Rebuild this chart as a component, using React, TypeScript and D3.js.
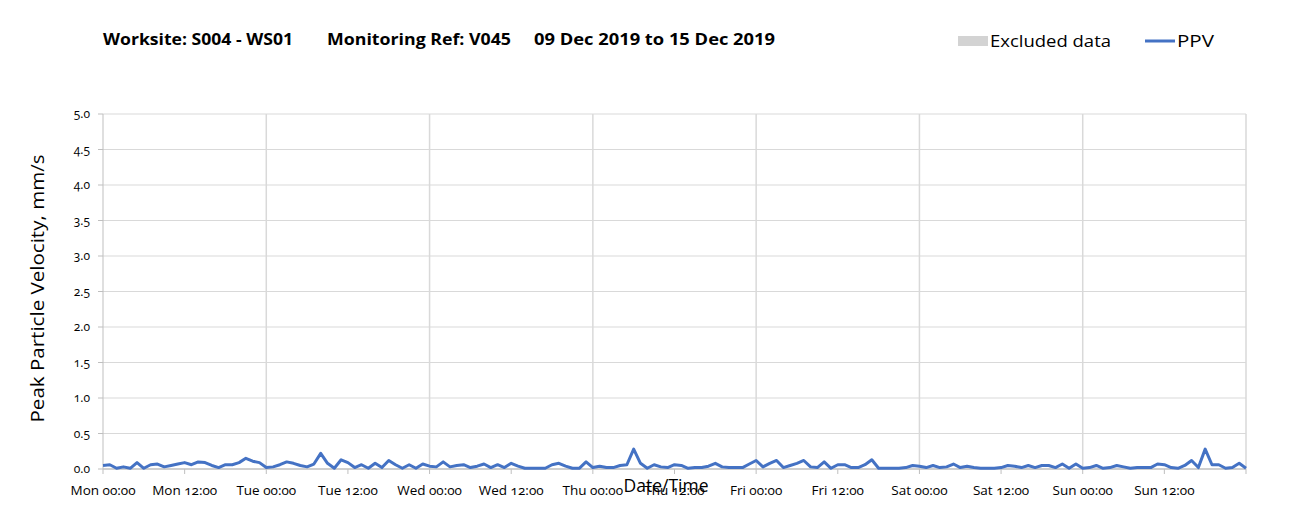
import React from "react";
import * as d3 from "d3";

const W = 1307;
const H = 524;

const titleParts = ["Worksite: S004 - WS01", "Monitoring Ref: V045", "09 Dec 2019 to 15 Dec 2019"];
const legendLabels = ["Excluded data", "PPV"];
const yTitle = "Peak Particle Velocity, mm/s";
const xTitle = "Date/Time";
const yTicks = [0, 0.5, 1, 1.5, 2, 2.5, 3, 3.5, 4, 4.5, 5];
const xTickLabels = [
  "Mon 00:00", "Mon 12:00", "Tue 00:00", "Tue 12:00", "Wed 00:00", "Wed 12:00",
  "Thu 00:00", "Thu 12:00", "Fri 00:00", "Fri 12:00", "Sat 00:00", "Sat 12:00",
  "Sun 00:00", "Sun 12:00",
];
const startTime = new Date(2019, 11, 9, 0, 0, 0);

// hourly PPV readings (mm/s), Mon 00:00 .. next Mon 00:00
const ppv = [
  0.05, 0.06, 0.01, 0.03, 0.01, 0.09, 0.01, 0.06, 0.07, 0.03, 0.05, 0.07,
  0.09, 0.06, 0.10, 0.09, 0.05, 0.02, 0.06, 0.06, 0.09, 0.15, 0.11, 0.09,
  0.02, 0.03, 0.06, 0.10, 0.08, 0.05, 0.03, 0.07, 0.22, 0.08, 0.01, 0.13,
  0.09, 0.02, 0.06, 0.01, 0.08, 0.02, 0.12, 0.06, 0.01, 0.06, 0.01, 0.07,
  0.04, 0.03, 0.10, 0.03, 0.05, 0.06, 0.02, 0.04, 0.07, 0.02, 0.06, 0.02,
  0.08, 0.04, 0.01, 0.01, 0.01, 0.01, 0.06, 0.08, 0.04, 0.01, 0.01, 0.10,
  0.02, 0.04, 0.02, 0.02, 0.05, 0.06, 0.28, 0.08, 0.01, 0.06, 0.03, 0.02,
  0.06, 0.05, 0.01, 0.02, 0.02, 0.04, 0.08, 0.03, 0.02, 0.02, 0.02, 0.07,
  0.12, 0.03, 0.08, 0.12, 0.02, 0.05, 0.08, 0.12, 0.03, 0.02, 0.10, 0.01,
  0.06, 0.06, 0.02, 0.02, 0.06, 0.13, 0.01, 0.01, 0.01, 0.01, 0.02, 0.05,
  0.04, 0.02, 0.05, 0.02, 0.03, 0.07, 0.02, 0.04, 0.02, 0.01, 0.01, 0.01,
  0.02, 0.05, 0.04, 0.02, 0.05, 0.02, 0.05, 0.05, 0.02, 0.07, 0.01, 0.07,
  0.01, 0.02, 0.05, 0.01, 0.02, 0.05, 0.03, 0.01, 0.02, 0.02, 0.02, 0.07,
  0.06, 0.02, 0.01, 0.05, 0.12, 0.02, 0.28, 0.06, 0.06, 0.01, 0.02, 0.08,
  0.01,
];

const FONT = "'Open Sans', 'Noto Sans', sans-serif";

export default function App() {
  const left = 103;
  const right = 1246;
  const top = 114;
  const bottom = 469;

  const times = ppv.map((_, i) => d3.timeHour.offset(startTime, i));
  const x = d3
    .scaleTime()
    .domain([startTime, d3.timeHour.offset(startTime, 168)])
    .range([left, right]);
  const y = d3.scaleLinear().domain([0, 5]).range([bottom, top]);

  const line = d3
    .line<number>()
    .x((_, i) => x(times[i]))
    .y((d) => y(d));

  const majorDays = d3.range(0, 8).map((d) => d3.timeDay.offset(startTime, d));
  const halfDays = d3.range(0, 15).map((k) => d3.timeHour.offset(startTime, k * 12));

  const gridColor = "#d9d9d9";
  const axisColor = "#bfbfbf";

  return (
    <svg width={W} height={H} style={{ display: "block", position: "absolute", left: 0, top: 0 }} fontFamily={FONT}>
      <rect x={0} y={0} width={W} height={H} fill="#ffffff" />
      {/* title */}
      <g fontWeight="bold" fontSize={16} fill="#000">
        <text x={103} y={45} textLength={190} lengthAdjust="spacingAndGlyphs">{titleParts[0]}</text>
        <text x={327} y={45} textLength={184} lengthAdjust="spacingAndGlyphs">{titleParts[1]}</text>
        <text x={534} y={45} textLength={241} lengthAdjust="spacingAndGlyphs">{titleParts[2]}</text>
      </g>
      {/* legend */}
      <g fontSize={17} fill="#000">
        <rect x={958} y={36} width={30} height={10} fill="#d3d3d3" />
        <text x={990} y={47} textLength={121} lengthAdjust="spacingAndGlyphs">{legendLabels[0]}</text>
        <line x1={1145} x2={1175} y1={41} y2={41} stroke="#4472C4" strokeWidth={3} />
        <text x={1177} y={47} textLength={37} lengthAdjust="spacingAndGlyphs">{legendLabels[1]}</text>
      </g>
      {/* horizontal grid */}
      {yTicks.filter((t) => t > 0).map((t) => (
        <line key={"h" + t} x1={left} x2={right} y1={y(t)} y2={y(t)} stroke={gridColor} strokeWidth={1} />
      ))}
      {/* vertical grid */}
      {majorDays.slice(1).map((d, i) => (
        <line key={"v" + i} x1={x(d)} x2={x(d)} y1={top} y2={bottom} stroke={gridColor} strokeWidth={1.5} />
      ))}
      {/* y axis */}
      <line x1={left} x2={left} y1={top} y2={bottom} stroke={axisColor} strokeWidth={1} />
      {yTicks.map((t) => (
        <g key={"yt" + t}>
          <line x1={left - 5} x2={left} y1={y(t)} y2={y(t)} stroke={axisColor} />
          <text x={90} y={y(t) + 4} textAnchor="end" fontSize={12} fill="#000" style={{ fontVariantNumeric: "oldstyle-nums" }}>
            {d3.format(".1f")(t)}
          </text>
        </g>
      ))}
      {/* x axis */}
      <line x1={left} x2={right} y1={bottom} y2={bottom} stroke={axisColor} strokeWidth={1.5} />
      {halfDays.map((t, i) => (
        <line key={"xt" + i} x1={x(t)} x2={x(t)} y1={bottom} y2={bottom + 5} stroke={axisColor} />
      ))}
      {halfDays.slice(0, 14).map((t, i) => (
        <text key={"xl" + i} x={x(t)} y={495} textAnchor="middle" fontSize={13.5} fill="#000" style={{ fontVariantNumeric: "oldstyle-nums" }}>
          {xTickLabels[i]}
        </text>
      ))}
      {/* data line */}
      <path d={line(ppv) || ""} fill="none" stroke="#4472C4" strokeWidth={3} strokeLinejoin="round" />
      {/* axis titles */}
      <text x={666} y={492} textAnchor="middle" fontSize={17.5} fill="#000">{xTitle}</text>
      <text
        transform={`translate(44, ${(top + bottom) / 2 - 3}) rotate(-90)`}
        textAnchor="middle"
        fontSize={17.5}
        fill="#000"
        textLength={268}
        lengthAdjust="spacingAndGlyphs"
      >
        {yTitle}
      </text>
    </svg>
  );
}
